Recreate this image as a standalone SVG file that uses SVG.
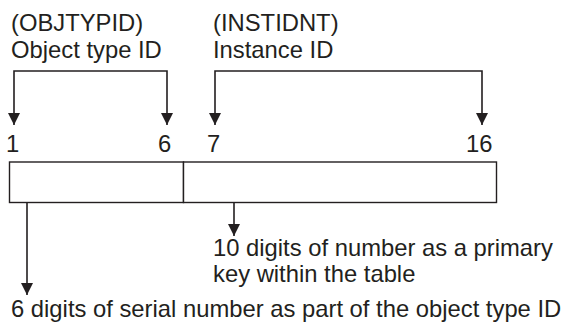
<svg xmlns="http://www.w3.org/2000/svg" width="574" height="322" viewBox="0 0 574 322">
<defs>
<style>
text{font-family:"Liberation Sans",Arial,sans-serif;font-size:23.8px;fill:#231f20}
.ln{fill:none;stroke:#231f20;stroke-width:1.6}
.box{fill:#fff;stroke:#231f20;stroke-width:1.4}
</style>
<marker id="ah" viewBox="0 0 12 12" refX="12" refY="6" markerWidth="12" markerHeight="12" markerUnits="userSpaceOnUse" orient="auto-start-reverse">
<path d="M0,0 L12,6 L0,12 z" fill="#231f20"/>
</marker>
</defs>
<rect width="574" height="322" fill="#fff"/>
<g id="label-objtypid">
<text x="11" y="31">(OBJTYPID)</text>
<text x="11" y="58">Object type ID</text>
</g>
<g id="label-instidnt">
<text x="213" y="31">(INSTIDNT)</text>
<text x="213" y="58">Instance ID</text>
</g>
<g id="positions">
<text x="6" y="152">1</text>
<text x="158" y="152">6</text>
<text x="207" y="152">7</text>
<text x="466" y="152">16</text>
</g>
<g id="record">
<rect class="box" x="9.5" y="162" width="174" height="40.5"/>
<rect class="box" x="183.5" y="162" width="313" height="40.5"/>
</g>
<g id="label-instance-desc">
<text x="213" y="256">10 digits of number as a primary</text>
<text x="213" y="282">key within the table</text>
</g>
<g id="label-serial-desc">
<text x="11" y="317">6 digits of serial number as part of the object type ID</text>
</g>
<g id="connectors">
<path class="ln" d="M14,125 V71 H167 V125" marker-start="url(#ah)" marker-end="url(#ah)"/>
<path class="ln" d="M215,125 V71 H482 V125" marker-start="url(#ah)" marker-end="url(#ah)"/>
<path class="ln" d="M234,203 V236" marker-end="url(#ah)"/>
<path class="ln" d="M27,203 V295" marker-end="url(#ah)"/>
</g>
</svg>
